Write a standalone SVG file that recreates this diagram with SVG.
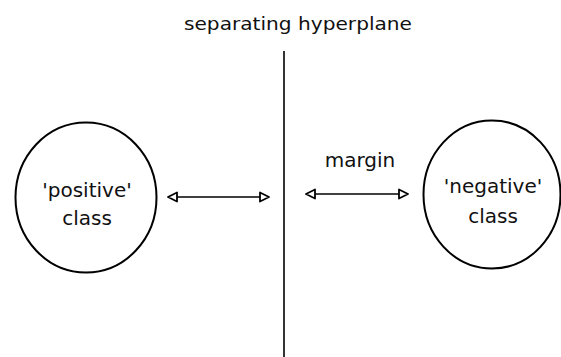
<svg xmlns="http://www.w3.org/2000/svg" width="561" height="357" viewBox="0 0 561 357">
<style>
text{font-family:"DejaVu Sans","Verdana",sans-serif;fill:#111;text-anchor:middle}
.t{font-size:18.5px}
.l{font-size:20px}
.c{fill:#fff;stroke:#000;stroke-width:2}
.e{stroke:#000;stroke-width:1.6;fill:none}
</style>
<defs>
<marker id="ah" viewBox="0 0 12 12" refX="10.5" refY="6" markerWidth="12" markerHeight="12" markerUnits="userSpaceOnUse" orient="auto-start-reverse">
<path d="M1.5,1.5 L10.5,6 L1.5,10.5 Z" fill="#fff" stroke="#000" stroke-width="1.8" stroke-linejoin="round"/>
</marker>
</defs>
<g id="hyperplane">
<text class="t" x="298" y="30" textLength="228" lengthAdjust="spacingAndGlyphs">separating hyperplane</text>
<line class="e" x1="284" y1="51" x2="284" y2="357"/>
</g>
<g id="positive">
<ellipse class="c" cx="86" cy="197.5" rx="70.5" ry="75"/>
<text class="l" x="87" y="197">'positive'</text>
<text class="l" x="87" y="225">class</text>
</g>
<g id="negative">
<ellipse class="c" cx="492" cy="194.5" rx="68.5" ry="74"/>
<text class="l" x="493" y="193">'negative'</text>
<text class="l" x="493" y="223">class</text>
</g>
<g id="margin-label">
<text class="l" x="360" y="167">margin</text>
</g>
<g id="connectors">
<line class="e" x1="168" y1="197" x2="269" y2="197" marker-start="url(#ah)" marker-end="url(#ah)"/>
<line class="e" x1="306" y1="194" x2="408" y2="194" marker-start="url(#ah)" marker-end="url(#ah)"/>
</g>
</svg>
